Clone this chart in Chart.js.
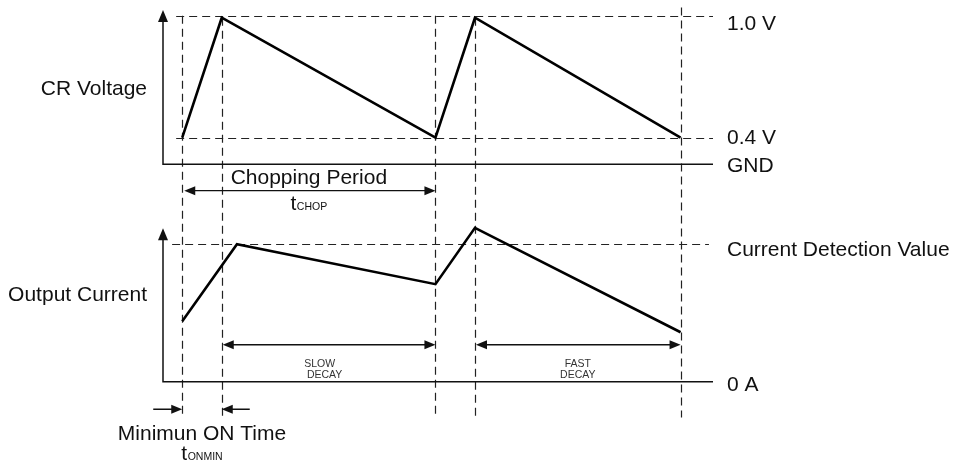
<!DOCTYPE html>
<html>
<head>
<meta charset="utf-8">
<title>Chopping waveform</title>
<script src="https://cdn.jsdelivr.net/npm/chart.js@4.4.1/dist/chart.umd.min.js"></script>
<style>
  html, body { margin: 0; padding: 0; background: #fff; }
  #wrap { width: 955px; height: 468px; }
</style>
</head>
<body>
<div id="wrap"><canvas id="timingChart" width="955" height="468"></canvas></div>
<script>
// Data (time in arbitrary units, one chopping period = 25)
const voltageTime = [0, 3.9, 25, 28.9, 49.2];
const voltageValue = [0.4, 0.99, 0.4, 0.99, 0.4];          // V
const currentTime = [0, 5.4, 25, 28.9, 49.2];
const currentValue = [0.44, 1.0, 0.71, 1.12, 0.36];        // x detection value
const guideTimes = [0, 3.9, 25, 28.9, 49.2];

const voltageTicks = [1.0, 0.4];
const voltageTickLabels = ['1.0 V', '0.4 V'];
const gndLevel = 0.27;
const currentTicks = [1.0, 0];
const currentTickLabels = ['Current Detection Value', '0 A'];

const choppingSpan = [0, 25];
const slowDecaySpan = [3.9, 25];
const fastDecaySpan = [28.9, 49.2];
const minOnSpan = [0, 3.9];

// Styles
const FONT = "'Liberation Sans', Arial, Helvetica, sans-serif";
const INK = '#111';
const guideTopV = [1.0, 0.99, 1.0, 0.99, 1.04];
const guideBottomI = -0.26;

function head(ctx, x, y, dx, dy, len, half) {
    ctx.beginPath();
    ctx.moveTo(x, y);
    ctx.lineTo(x - dx * len - dy * half, y - dy * len + dx * half);
    ctx.lineTo(x - dx * len + dy * half, y - dy * len - dx * half);
    ctx.closePath();
    ctx.fill();
}

function dimArrow(ctx, x1, x2, y) {
    ctx.beginPath();
    ctx.moveTo(x1 + 4, y);
    ctx.lineTo(x2 - 4, y);
    ctx.stroke();
    head(ctx, x1, y, -1, 0, 11, 4.5);
    head(ctx, x2, y, 1, 0, 11, 4.5);
}

function subText(ctx, main, sub, cx, y) {
    ctx.font = `21px ${FONT}`;
    const w1 = ctx.measureText(main).width;
    ctx.font = `10.5px ${FONT}`;
    const w2 = ctx.measureText(sub).width;
    const x = cx - (w1 + w2 + 0.5) / 2;
    ctx.textAlign = 'left';
    ctx.font = `21px ${FONT}`;
    ctx.fillText(main, x, y);
    ctx.font = `10.5px ${FONT}`;
    ctx.fillText(sub, x + w1 + 0.5, y);
}

const timingPlugin = {
    id: 'timing',
    beforeDatasetsDraw(chart) {
        const { ctx, scales: { x, yV, yI } } = chart;
        ctx.save();
        ctx.strokeStyle = '#222';
        ctx.lineWidth = 1.2;
        ctx.setLineDash([8, 5]);

        guideTimes.forEach((t, i) => {
            const px = Math.round(x.getPixelForValue(t)) + 0.5;
            ctx.beginPath();
            ctx.moveTo(px, yV.getPixelForValue(guideTopV[i]));
            ctx.lineTo(px, yI.getPixelForValue(guideBottomI));
            ctx.stroke();
        });

        voltageTicks.forEach(v => {
            const py = Math.round(yV.getPixelForValue(v)) + 0.5;
            ctx.beginPath();
            ctx.moveTo(x.getPixelForValue(-0.6), py);
            ctx.lineTo(x.right, py);
            ctx.stroke();
        });

        const py = Math.round(yI.getPixelForValue(currentTicks[0])) + 0.5;
        ctx.beginPath();
        ctx.moveTo(x.getPixelForValue(-1.0), py);
        ctx.lineTo(x.getPixelForValue(52.0), py);
        ctx.stroke();
        ctx.restore();
    },
    afterDatasetsDraw(chart) {
        const { ctx, scales: { x, yV, yI } } = chart;
        const left = x.left, right = x.right;
        ctx.save();
        ctx.strokeStyle = INK;
        ctx.fillStyle = INK;
        ctx.lineWidth = 1.5;

        // axes
        const gndY = yV.getPixelForValue(gndLevel);
        const zeroY = yI.getPixelForValue(0);
        const vTop = yV.getPixelForValue(1.028);
        const iTop = yI.getPixelForValue(1.117);
        ctx.beginPath();
        ctx.moveTo(left, vTop + 10);
        ctx.lineTo(left, gndY);
        ctx.lineTo(right, gndY);
        ctx.moveTo(left, iTop + 10);
        ctx.lineTo(left, zeroY);
        ctx.lineTo(right, zeroY);
        ctx.stroke();
        head(ctx, left, vTop, 0, -1, 12, 5);
        head(ctx, left, iTop, 0, -1, 12, 5);

        // dimension arrows
        ctx.lineWidth = 1.4;
        const xp = t => x.getPixelForValue(t);
        dimArrow(ctx, xp(choppingSpan[0]) + 2, xp(choppingSpan[1]), gndY + 26.5);
        dimArrow(ctx, xp(slowDecaySpan[0]) + 1, xp(slowDecaySpan[1]), zeroY - 37);
        dimArrow(ctx, xp(fastDecaySpan[0]) + 1, xp(fastDecaySpan[1]), zeroY - 37);

        const onY = zeroY + 27.5;
        const a = xp(minOnSpan[0]), b = xp(minOnSpan[1]);
        ctx.beginPath();
        ctx.moveTo(a - 29, onY); ctx.lineTo(a - 4, onY);
        ctx.moveTo(b + 28, onY); ctx.lineTo(b + 4, onY);
        ctx.stroke();
        head(ctx, a, onY, 1, 0, 11, 4.5);
        head(ctx, b, onY, -1, 0, 11, 4.5);

        // labels
        ctx.textBaseline = 'alphabetic';
        ctx.font = `21px ${FONT}`;
        ctx.textAlign = 'right';
        ctx.fillText('CR Voltage', 147, 95);
        ctx.fillText('Output Current', 147, 301);

        ctx.textAlign = 'left';
        const lx = right + 14;
        const vOffsets = [14, 6.5];
        voltageTicks.forEach((v, i) => {
            ctx.fillText(voltageTickLabels[i], lx, yV.getPixelForValue(v) + vOffsets[i]);
        });
        ctx.fillText('GND', lx, gndY + 7.5);
        const iOffsets = [12, 9.5];
        currentTicks.forEach((v, i) => {
            ctx.fillText(currentTickLabels[i], lx, yI.getPixelForValue(v) + iOffsets[i]);
        });

        const chopC = (xp(choppingSpan[0]) + xp(choppingSpan[1])) / 2;
        ctx.textAlign = 'center';
        ctx.fillText('Chopping Period', chopC, gndY + 20);
        subText(ctx, 't', 'CHOP', chopC, gndY + 46);

        const onC = (a + b) / 2;
        ctx.textAlign = 'center';
        ctx.font = `21px ${FONT}`;
        ctx.fillText('Minimun ON Time', onC, zeroY + 58.5);
        subText(ctx, 't', 'ONMIN', onC, zeroY + 78.5);

        ctx.fillStyle = '#333';
        ctx.font = `10.5px ${FONT}`;
        ctx.textAlign = 'center';
        const slowC = (xp(slowDecaySpan[0]) + xp(slowDecaySpan[1])) / 2;
        ctx.fillText('SLOW', slowC - 9, zeroY - 15);
        ctx.fillText('DECAY', slowC - 4, zeroY - 3.5);
        const fastC = (xp(fastDecaySpan[0]) + xp(fastDecaySpan[1])) / 2;
        ctx.fillText('FAST', fastC, zeroY - 15);
        ctx.fillText('DECAY', fastC, zeroY - 3.5);
        ctx.restore();
    }
};

const ctx = document.getElementById('timingChart').getContext('2d');

new Chart(ctx, {
    type: 'line',
    data: {
        datasets: [{
            label: 'CR Voltage',
            data: voltageTime.map((t, i) => ({ x: t, y: voltageValue[i] })),
            yAxisID: 'yV',
            borderColor: '#000',
            borderWidth: 2.6,
            borderJoinStyle: 'miter',
            pointRadius: 0,
            tension: 0
        }, {
            label: 'Output Current',
            data: currentTime.map((t, i) => ({ x: t, y: currentValue[i] })),
            yAxisID: 'yI',
            borderColor: '#000',
            borderWidth: 2.6,
            borderJoinStyle: 'miter',
            pointRadius: 0,
            tension: 0
        }]
    },
    options: {
        responsive: false,
        animation: false,
        layout: { padding: { left: 163, right: 242, top: 0, bottom: 0 } },
        plugins: {
            legend: { display: false },
            tooltip: { enabled: false }
        },
        scales: {
            x: { type: 'linear', min: -1.9, max: 52.4, bounds: 'data', display: false },
            // both panels share the full canvas height; ranges place each panel
            yV: { type: 'linear', min: -1.2244, max: 1.0772, bounds: 'data', display: false },
            yI: { type: 'linear', min: -0.628, max: 2.778, bounds: 'data', display: false }
        }
    },
    plugins: [timingPlugin]
});
</script>
</body>
</html>
